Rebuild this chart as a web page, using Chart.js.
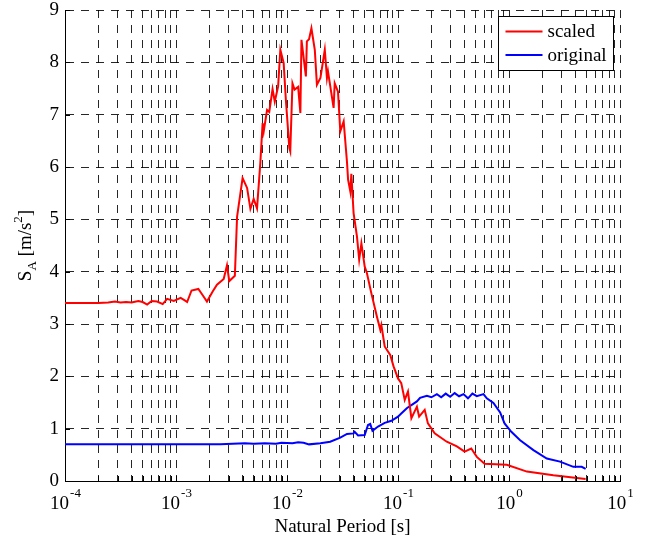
<!DOCTYPE html>
<html>
<head>
<meta charset="utf-8">
<title>Response spectrum</title>
<script src="https://cdn.jsdelivr.net/npm/chart.js@4.4.1/dist/chart.umd.min.js"></script>
<style>
  html, body { margin: 0; padding: 0; background: #fff; }
  #wrap { width: 652px; height: 537px; }
</style>
</head>
<body>
<div id="wrap"><canvas id="chart1" width="652" height="537"></canvas></div>
<script>
// natural period [s] and spectral acceleration [m/s2]
const periodScaled = [
  0.0001, 0.0002, 0.000245, 0.000282, 0.000316, 0.000355, 0.000398, 0.000457, 0.000501, 0.00055,
  0.000603, 0.000676, 0.000759, 0.000832, 0.000955, 0.0011, 0.0012, 0.00126, 0.00138, 0.00159,
  0.00174, 0.0019, 0.00214, 0.00234, 0.00269, 0.00288, 0.00302, 0.00339, 0.00355, 0.00398,
  0.00437, 0.00468, 0.00501, 0.00537, 0.00575, 0.00603, 0.00617, 0.00661, 0.00692, 0.00741,
  0.00776, 0.00832, 0.00871, 0.00933, 0.00977, 0.0105, 0.0107, 0.0112, 0.0117, 0.0126,
  0.0132, 0.0135, 0.0148, 0.0151, 0.0158, 0.0166, 0.0178, 0.0186, 0.02, 0.0219,
  0.0229, 0.0234, 0.0263, 0.0269, 0.0288, 0.0302, 0.0324, 0.0347, 0.0355, 0.0372,
  0.038, 0.0398, 0.0427, 0.0447, 0.0468, 0.0501, 0.0525, 0.0575, 0.0646, 0.0692,
  0.0708, 0.0759, 0.0851, 0.0912, 0.1, 0.107, 0.115, 0.123, 0.132, 0.148,
  0.155, 0.174, 0.186, 0.214, 0.275, 0.339, 0.398, 0.457, 0.513, 0.603,
  0.955, 1.45, 2.51, 4.9
];
const saScaled = [
  3.40, 3.40, 3.41, 3.43, 3.41, 3.42, 3.41, 3.44, 3.42, 3.37,
  3.44, 3.43, 3.38, 3.48, 3.44, 3.50, 3.45, 3.42, 3.64, 3.67,
  3.55, 3.43, 3.62, 3.75, 3.86, 4.12, 3.82, 3.92, 5.05, 5.79,
  5.60, 5.20, 5.39, 5.21, 6.08, 6.84, 6.68, 7.09, 7.05, 7.49,
  7.25, 7.54, 8.24, 7.99, 7.28, 6.36, 6.30, 7.60, 7.48, 7.53,
  7.03, 8.43, 7.73, 8.40, 8.44, 8.65, 8.24, 7.57, 7.70, 8.24,
  7.70, 7.83, 7.13, 7.60, 7.44, 6.68, 6.87, 6.10, 5.76, 5.53,
  5.87, 5.12, 4.67, 4.23, 4.54, 4.10, 3.97, 3.59, 3.14, 2.89,
  2.98, 2.57, 2.41, 2.19, 1.96, 1.87, 1.55, 1.71, 1.20, 1.42,
  1.23, 1.36, 1.10, 0.91, 0.75, 0.66, 0.56, 0.62, 0.46, 0.33,
  0.31, 0.18, 0.11, 0.04
];
const periodOriginal = [
  0.0001, 0.00251, 0.00417, 0.00501, 0.00631, 0.00794, 0.00891, 0.0112, 0.0126, 0.0141,
  0.0158, 0.02, 0.0245, 0.0302, 0.0347, 0.0398, 0.0407, 0.0437, 0.0501, 0.0537,
  0.0562, 0.0589, 0.0661, 0.0759, 0.0871, 0.1, 0.107, 0.12, 0.132, 0.148,
  0.158, 0.182, 0.2, 0.224, 0.245, 0.269, 0.295, 0.324, 0.355, 0.389,
  0.427, 0.468, 0.513, 0.589, 0.631, 0.724, 0.832, 0.912, 1.05, 1.26,
  1.66, 2.19, 2.88, 3.8, 4.52, 4.9
];
const saOriginal = [
  0.70, 0.70, 0.72, 0.71, 0.72, 0.71, 0.73, 0.72, 0.74, 0.73,
  0.70, 0.72, 0.75, 0.83, 0.90, 0.91, 0.94, 0.87, 0.88, 1.07,
  1.09, 0.96, 1.04, 1.11, 1.15, 1.23, 1.29, 1.39, 1.45, 1.52,
  1.59, 1.63, 1.60, 1.66, 1.60, 1.67, 1.61, 1.68, 1.62, 1.66,
  1.58, 1.67, 1.62, 1.66, 1.58, 1.49, 1.31, 1.10, 0.94, 0.78,
  0.59, 0.43, 0.37, 0.27, 0.27, 0.23
];
const seriesNames = ['scaled', 'original'];
const seriesColors = ['#ff0000', '#0000ff'];
const xDecades = [-4, -3, -2, -1, 0, 1];
const yMin = 0, yMax = 9;

const serif = '"Liberation Serif", "Times New Roman", serif';

function toPoints(xs, ys) {
  return xs.map((x, i) => ({ x: x, y: ys[i] }));
}

// x tick labels (10 with superscript), y title with sub/superscript, legend box, inner ticks
const annotatePlugin = {
  id: 'annotate',
  afterDraw(chart) {
    const ctx = chart.ctx;
    const xs = chart.scales.x;
    const ys = chart.scales.y;
    const area = chart.chartArea;
    ctx.save();
    ctx.fillStyle = '#000';
    ctx.strokeStyle = '#000';
    ctx.lineWidth = 1;

    // inward tick marks on left and bottom axes
    ctx.beginPath();
    xs.ticks.forEach(t => {
      const px = Math.round(xs.getPixelForValue(t.value)) + 0.5;
      ctx.moveTo(px, area.bottom);
      ctx.lineTo(px, area.bottom - 5);
    });
    ys.ticks.forEach(t => {
      const py = Math.round(ys.getPixelForValue(t.value)) + 0.5;
      ctx.moveTo(area.left, py);
      ctx.lineTo(area.left + 5, py);
    });
    ctx.stroke();

    // x tick labels 10^n
    ctx.textBaseline = 'alphabetic';
    xDecades.forEach(e => {
      const px = xs.getPixelForValue(Math.pow(10, e));
      ctx.font = '19px ' + serif;
      const w1 = ctx.measureText('10').width;
      ctx.font = '13px ' + serif;
      const sup = e < 0 ? '-' + Math.abs(e) : String(e);
      const w2 = ctx.measureText(sup).width;
      const left = px - (w1 + w2) / 2;
      ctx.font = '19px ' + serif;
      ctx.textAlign = 'left';
      ctx.fillText('10', left, area.bottom + 28);
      ctx.font = '13px ' + serif;
      ctx.fillText(sup, left + w1 + 1, area.bottom + 16);
    });

    // x axis title
    ctx.font = '19px ' + serif;
    ctx.textAlign = 'center';
    ctx.fillText('Natural Period [s]', (area.left + area.right) / 2, area.bottom + 51);

    // y axis title: S_A [m/s^2]
    ctx.save();
    ctx.translate(31, (area.top + area.bottom) / 2);
    ctx.rotate(-Math.PI / 2);
    const parts = [
      { t: 'S', f: '19px', dy: 0 },
      { t: 'A', f: '13px', dy: 5 },
      { t: ' [m/s', f: '19px', dy: 0 },
      { t: '2', f: '13px', dy: -9 },
      { t: ']', f: '19px', dy: 0 }
    ];
    let total = 0;
    parts.forEach(p => { ctx.font = p.f + ' ' + serif; p.w = ctx.measureText(p.t).width; total += p.w; });
    let cx = -total / 2;
    ctx.textAlign = 'left';
    parts.forEach(p => {
      ctx.font = p.f + ' ' + serif;
      ctx.fillText(p.t, cx, p.dy);
      cx += p.w;
    });
    ctx.restore();

    // legend box
    const bx = 498.5, by = 16.5, bw = 115, bh = 54;
    ctx.fillStyle = '#fff';
    ctx.fillRect(bx, by, bw, bh);
    ctx.strokeStyle = '#000';
    ctx.lineWidth = 1;
    ctx.strokeRect(bx, by, bw, bh);
    ctx.font = '19px ' + serif;
    ctx.textAlign = 'left';
    ctx.textBaseline = 'middle';
    chart.data.datasets.forEach((ds, i) => {
      const ly = by + 15 + i * 23.5;
      ctx.strokeStyle = ds.borderColor;
      ctx.lineWidth = 2;
      ctx.beginPath();
      ctx.moveTo(bx + 7, ly);
      ctx.lineTo(bx + 44, ly);
      ctx.stroke();
      ctx.fillStyle = '#000';
      ctx.fillText(ds.label, bx + 49, ly + 1);
    });
    ctx.restore();
  }
};

const ctx = document.getElementById('chart1');
new Chart(ctx, {
  type: 'line',
  data: {
    datasets: [
      {
        label: seriesNames[0],
        data: toPoints(periodScaled, saScaled),
        borderColor: seriesColors[0],
        borderWidth: 2,
        pointRadius: 0,
        tension: 0,
        fill: false
      },
      {
        label: seriesNames[1],
        data: toPoints(periodOriginal, saOriginal),
        borderColor: seriesColors[1],
        borderWidth: 2,
        pointRadius: 0,
        tension: 0,
        fill: false
      }
    ]
  },
  options: {
    responsive: false,
    animation: false,
    layout: { padding: { left: 0, top: 10, right: 32, bottom: 0 } },
    plugins: {
      legend: { display: false },
      tooltip: { enabled: false }
    },
    scales: {
      x: {
        type: 'logarithmic',
        min: 1e-4,
        max: 10,
        afterBuildTicks(scale) {
          const ticks = [];
          for (let d = xDecades[0]; d < xDecades[xDecades.length - 1]; d++) {
            for (let m = 1; m <= 9; m++) ticks.push({ value: m * Math.pow(10, d) });
          }
          ticks.push({ value: Math.pow(10, xDecades[xDecades.length - 1]) });
          scale.ticks = ticks;
        },
        afterFit(scale) { scale.height = 56; scale.paddingLeft = 0; scale.paddingRight = 0; },
        ticks: { display: false },
        grid: { color: 'rgba(0,0,0,0.85)', lineWidth: 1, drawTicks: false },
        border: { display: true, color: '#000', width: 1, dash: [8, 7] }
      },
      y: {
        type: 'linear',
        min: yMin,
        max: yMax,
        afterFit(scale) { scale.width = 65; scale.paddingTop = 0; scale.paddingBottom = 0; },
        ticks: {
          stepSize: 1,
          color: '#000',
          padding: 6,
          font: { family: serif, size: 19 }
        },
        grid: { color: 'rgba(0,0,0,0.85)', lineWidth: 1, drawTicks: false },
        border: { display: true, color: '#000', width: 1, dash: [8, 7] }
      }
    }
  },
  plugins: [annotatePlugin]
});
</script>
</body>
</html>
